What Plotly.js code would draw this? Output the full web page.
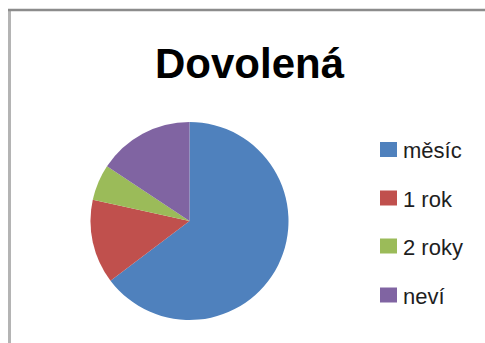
<!DOCTYPE html>
<html>
<head>
<meta charset="utf-8">
<script src="https://cdn.plot.ly/plotly-3.0.1.min.js"></script>
<style>html,body{margin:0;padding:0;background:#fff;}#chart{width:485px;height:343px;}</style>
</head>
<body>
<div id="chart"></div>
<script>
const chartTitle = "Dovolená";
const categories = ["měsíc", "1 rok", "2 roky", "neví"];
const values = [33, 7, 3, 8];
const colors = ["#4F81BD", "#C0504D", "#9BBB59", "#8064A2"];

const W = 485, H = 343;
const px = x => x / W;
const py = y => 1 - y / H;

// pie geometry (pixels)
const cx = 189.5, cy = 221, r = 99;

const legendY = [149.5, 198, 246, 295];
const shapes = [
  {type: "line", xref: "paper", yref: "paper", x0: px(9.5), x1: px(9.5), y0: py(343), y1: py(10), line: {color: "#b4b4b4", width: 3}},
  {type: "line", xref: "paper", yref: "paper", x0: px(8), x1: px(485), y0: py(10), y1: py(10), line: {color: "#8c8c8c", width: 2.5}}
];
const annotations = [];
categories.forEach((c, i) => {
  const yc = legendY[i];
  shapes.push({type: "rect", xref: "paper", yref: "paper", x0: px(380), x1: px(397), y0: py(yc + 7.5), y1: py(yc - 7.5), fillcolor: colors[i], line: {width: 0}});
  annotations.push({text: c, xref: "paper", yref: "paper", x: px(401), y: py(yc + 1), xanchor: "left", yanchor: "middle", showarrow: false, font: {family: "Liberation Sans, Arial, sans-serif", size: 22, color: "#1e1e1e"}});
});
annotations.push({text: "<b>" + chartTitle + "</b>", xref: "paper", yref: "paper", x: px(250), y: py(64), xanchor: "center", yanchor: "middle", showarrow: false, font: {family: "Liberation Sans, Arial, sans-serif", size: 42, color: "#000"}});

const data = [{
  type: "pie",
  labels: categories,
  values: values,
  marker: {colors: colors, line: {width: 0}},
  sort: false,
  direction: "clockwise",
  rotation: 0,
  textinfo: "none",
  hoverinfo: "label+value",
  domain: {x: [px(cx - r), px(cx + r)], y: [py(cy + r), py(cy - r)]},
  showlegend: false
}];

const layout = {
  width: W, height: H,
  margin: {l: 0, r: 0, t: 0, b: 0},
  paper_bgcolor: "#fff",
  showlegend: false,
  shapes: shapes,
  annotations: annotations
};
Plotly.newPlot("chart", data, layout, {displayModeBar: false, staticPlot: true});
</script>
</body>
</html>
